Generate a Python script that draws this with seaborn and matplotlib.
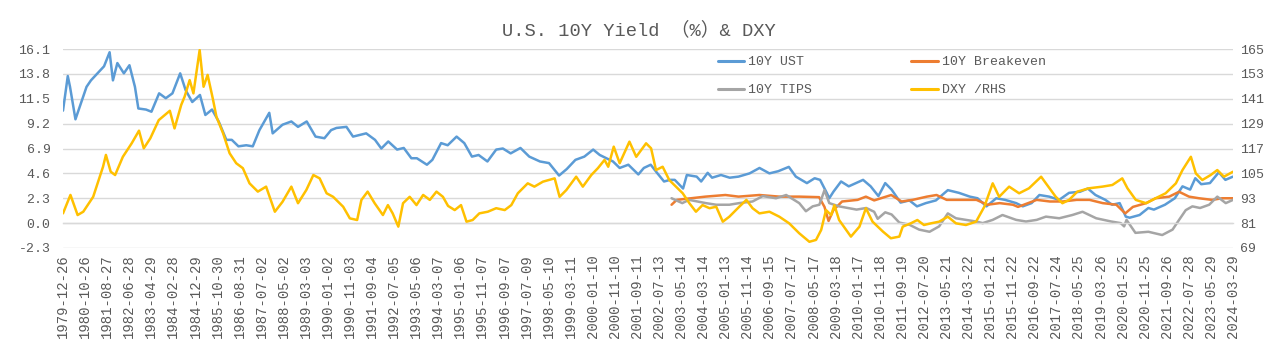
import numpy as np
import pandas as pd
import matplotlib
matplotlib.use("Agg")
import matplotlib.pyplot as plt
import seaborn as sns

# ---------------- data ----------------
ust_dates = ["1979-12-26", "1980-03-01", "1980-04-01", "1980-06-15", "1980-09-15", "1980-11-15",
             "1981-01-15", "1981-04-15", "1981-07-15", "1981-09-30", "1981-11-15", "1982-01-15",
             "1982-04-15", "1982-07-01", "1982-09-15", "1982-11-01", "1983-02-15", "1983-05-01",
             "1983-08-15", "1983-11-15", "1984-02-15", "1984-06-01", "1984-08-15", "1984-11-15",
             "1985-03-01", "1985-05-15", "1985-08-15", "1985-11-15", "1986-03-01", "1986-05-15",
             "1986-08-15", "1986-12-01", "1987-03-01", "1987-06-01", "1987-10-15", "1987-12-01",
             "1988-04-15", "1988-08-15", "1988-11-15", "1989-03-15", "1989-07-15", "1989-11-15",
             "1990-02-15", "1990-04-30", "1990-09-15", "1990-12-15", "1991-03-15", "1991-06-15",
             "1991-10-15", "1992-01-10", "1992-04-15", "1992-08-15", "1992-11-15", "1993-02-28",
             "1993-05-15", "1993-10-01", "1993-12-15", "1994-04-15", "1994-07-15", "1994-11-15",
             "1995-03-01", "1995-06-15", "1995-09-15", "1996-01-15", "1996-05-15", "1996-08-15",
             "1996-12-01", "1997-04-15", "1997-08-15", "1998-01-10", "1998-05-15", "1998-10-01",
             "1999-01-15", "1999-05-15", "1999-09-15", "2000-01-15", "2000-04-15", "2000-07-15",
             "2000-10-15", "2001-01-15", "2001-05-15", "2001-09-30", "2001-12-15", "2002-03-20",
             "2002-06-15", "2002-09-20", "2002-12-15", "2003-02-15", "2003-06-10", "2003-08-01",
             "2003-12-15", "2004-02-15", "2004-05-15", "2004-07-15", "2004-11-15", "2005-03-15",
             "2005-07-15", "2005-12-15", "2006-05-01", "2006-09-15", "2007-01-15", "2007-06-10",
             "2007-09-15", "2008-02-15", "2008-06-01", "2008-08-15", "2008-11-15", "2008-12-20",
             "2009-02-15", "2009-06-01", "2009-09-15", "2010-04-01", "2010-07-15", "2010-10-30",
             "2011-02-01", "2011-04-30", "2011-09-01", "2012-01-01", "2012-04-15", "2012-08-15",
             "2013-01-01", "2013-06-15", "2013-11-15", "2014-04-15", "2014-07-30", "2014-12-01",
             "2015-04-15", "2015-08-15", "2016-01-15", "2016-04-15", "2016-08-15", "2016-12-01",
             "2017-04-15", "2017-09-01", "2018-01-15", "2018-06-15", "2018-10-01", "2019-01-15",
             "2019-06-01", "2019-09-01", "2019-12-15", "2020-03-09", "2020-05-01", "2020-09-15",
             "2021-01-15", "2021-04-01", "2021-09-01", "2022-01-15", "2022-05-01", "2022-08-15",
             "2022-10-25", "2023-01-15", "2023-05-15", "2023-09-15", "2023-12-15", "2024-03-29"]
ust_vals = [10.4, 13.6, 12.6, 9.6, 11.4, 12.6,
            13.2, 13.85, 14.5, 15.8, 13.2, 14.8,
            13.85, 14.6, 12.6, 10.6, 10.5, 10.3,
            12.0, 11.55, 12.0, 13.85, 12.3, 11.2,
            11.85, 10.0, 10.5, 9.4, 7.7, 7.7,
            7.1, 7.2, 7.1, 8.6, 10.2, 8.3,
            9.1, 9.4, 8.9, 9.4, 8.0, 7.85,
            8.6, 8.8, 8.9, 8.0, 8.15, 8.3,
            7.7, 6.9, 7.55, 6.8, 6.95, 6.0,
            6.0, 5.4, 5.85, 7.4, 7.2, 8.0,
            7.4, 6.15, 6.3, 5.7, 6.8, 6.9,
            6.45, 6.95, 6.15, 5.7, 5.55, 4.4,
            5.0, 5.85, 6.15, 6.8, 6.3, 6.0,
            5.7, 5.1, 5.4, 4.5, 5.1, 5.4,
            4.65, 3.85, 4.0, 4.0, 3.2, 4.45,
            4.3, 3.85, 4.65, 4.2, 4.45, 4.2,
            4.3, 4.6, 5.1, 4.6, 4.8, 5.2,
            4.3, 3.7, 4.15, 4.0, 2.8, 2.3,
            2.9, 3.85, 3.4, 4.0, 3.4, 2.5,
            3.7, 3.1, 1.9, 2.1, 1.55, 1.85,
            2.1, 3.05, 2.8, 2.45, 2.3, 1.55,
            2.3, 2.15, 1.85, 1.55, 1.85, 2.6,
            2.45, 2.15, 2.8, 2.9, 3.2, 2.6,
            2.15, 1.7, 1.85, 0.6, 0.5, 0.75,
            1.4, 1.25, 1.7, 2.3, 3.4, 3.1,
            4.15, 3.6, 3.7, 4.7, 4.0, 4.3]

be_dates = ["2003-01-02", "2003-03-15", "2004-04-15", "2005-01-15", "2005-07-15", "2006-04-30",
            "2007-01-30", "2007-11-01", "2008-08-01", "2008-10-15", "2008-12-10", "2009-02-15",
            "2009-06-15", "2010-01-15", "2010-05-10", "2010-09-01", "2011-04-25", "2011-09-15",
            "2012-02-15", "2012-08-30", "2013-01-10", "2013-05-30", "2014-01-10", "2014-07-15",
            "2014-12-15", "2015-06-01", "2015-12-01", "2016-02-10", "2016-10-25", "2017-04-25",
            "2017-10-20", "2018-04-30", "2018-10-25", "2019-04-25", "2019-10-30", "2020-03-01",
            "2020-06-15", "2020-12-15", "2021-04-25", "2021-10-30", "2022-03-15", "2022-07-30",
            "2022-12-15", "2023-06-15", "2023-11-01", "2024-03-29"]
be_vals = [1.7, 2.15, 2.45, 2.6, 2.45, 2.6,
           2.45, 2.45, 2.4, 1.5, 0.2, 1.2,
           2.0, 2.15, 2.45, 2.1, 2.6, 2.0,
           2.15, 2.45, 2.6, 2.15, 2.15, 2.15,
           1.7, 1.85, 1.7, 1.5, 2.15, 2.0,
           2.0, 2.15, 2.15, 1.85, 1.7, 0.9,
           1.5, 1.85, 2.3, 2.45, 2.9, 2.45,
           2.3, 2.15, 2.3, 2.3]

tips_dates = ["2003-01-02", "2003-05-30", "2003-09-01", "2004-04-20", "2004-09-10", "2005-03-10",
              "2005-07-25", "2006-01-25", "2006-06-15", "2006-12-15", "2007-05-05", "2007-11-01",
              "2008-02-01", "2008-05-05", "2008-08-05", "2008-10-15", "2008-12-20", "2009-05-05",
              "2010-01-01", "2010-05-15", "2010-09-01", "2010-10-20", "2011-02-01", "2011-04-30",
              "2011-08-15", "2012-01-01", "2012-05-15", "2012-10-05", "2013-02-15", "2013-06-15",
              "2013-10-05", "2014-02-20", "2014-07-10", "2014-10-10", "2015-02-25", "2015-07-10",
              "2016-01-15", "2016-05-30", "2016-10-25", "2017-03-01", "2017-09-01", "2018-03-01",
              "2018-07-20", "2019-01-25", "2019-08-20", "2019-12-30", "2020-02-15", "2020-03-19",
              "2020-07-20", "2021-01-15", "2021-07-25", "2021-12-15", "2022-03-15", "2022-06-15",
              "2022-09-15", "2022-12-30", "2023-05-05", "2023-08-25", "2023-12-20", "2024-03-29"]
tips_vals = [2.3, 1.85, 2.15, 1.85, 1.7, 1.7,
             1.85, 2.0, 2.5, 2.3, 2.6, 1.85,
             1.1, 1.55, 1.7, 3.05, 1.85, 1.55,
             1.25, 1.4, 1.05, 0.4, 1.0, 0.8,
             0.05, -0.15, -0.6, -0.8, -0.3, 0.9,
             0.45, 0.3, 0.15, 0.0, 0.3, 0.75,
             0.3, 0.15, 0.3, 0.6, 0.45, 0.75,
             1.05, 0.45, 0.15, 0.0, -0.3, 0.3,
             -0.9, -0.8, -1.1, -0.6, 0.3, 1.2,
             1.55, 1.4, 1.7, 2.45, 1.85, 2.15]

dxy_dates = ["1979-12-26", "1980-04-07", "1980-07-15", "1980-10-01", "1981-02-15", "1981-07-01",
             "1981-08-10", "1981-10-15", "1981-12-15", "1982-04-01", "1982-08-01", "1982-11-10",
             "1983-01-15", "1983-04-15", "1983-08-10", "1984-01-10", "1984-03-15", "1984-06-15",
             "1984-08-01", "1984-10-10", "1984-12-01", "1985-02-25", "1985-04-20", "1985-06-15",
             "1985-08-25", "1985-10-15", "1986-01-15", "1986-04-15", "1986-07-15", "1986-10-15",
             "1987-01-15", "1987-05-10", "1987-09-01", "1987-12-31", "1988-04-15", "1988-08-15",
             "1988-11-15", "1989-03-10", "1989-06-15", "1989-09-10", "1989-12-15", "1990-03-15",
             "1990-08-01", "1990-11-01", "1991-02-10", "1991-04-10", "1991-07-05", "1991-10-10",
             "1992-02-01", "1992-04-10", "1992-06-15", "1992-09-01", "1992-11-05", "1993-02-05",
             "1993-05-10", "1993-08-10", "1993-11-10", "1994-02-10", "1994-05-10", "1994-07-20",
             "1994-10-20", "1995-01-15", "1995-04-01", "1995-06-25", "1995-09-25", "1996-01-20",
             "1996-05-15", "1996-09-10", "1996-12-10", "1997-03-10", "1997-07-25", "1997-10-25",
             "1998-02-20", "1998-08-01", "1998-10-08", "1999-01-10", "1999-05-25", "1999-08-25",
             "1999-12-20", "2000-03-20", "2000-06-20", "2000-08-10", "2000-10-25", "2001-01-15",
             "2001-05-30", "2001-09-01", "2002-01-15", "2002-03-25", "2002-06-01", "2002-09-01",
             "2002-12-01", "2003-03-05", "2003-06-05", "2003-09-05", "2003-12-05", "2004-03-05",
             "2004-06-10", "2004-09-10", "2004-12-10", "2005-03-10", "2005-07-25", "2005-11-01",
             "2006-01-25", "2006-04-30", "2006-09-15", "2007-01-30", "2007-06-15", "2007-11-01",
             "2008-03-20", "2008-06-20", "2008-08-30", "2008-11-05", "2009-01-15", "2009-03-01",
             "2009-05-05", "2009-10-15", "2010-02-10", "2010-05-10", "2010-08-10", "2011-01-01",
             "2011-04-20", "2011-08-15", "2011-10-01", "2012-01-20", "2012-04-20", "2012-07-20",
             "2012-10-25", "2013-02-15", "2013-06-15", "2013-10-05", "2014-02-20", "2014-07-10",
             "2014-11-01", "2015-02-25", "2015-05-25", "2015-10-10", "2016-02-25", "2016-07-10",
             "2016-12-25", "2017-03-01", "2017-07-15", "2017-10-15", "2018-01-15", "2018-05-10",
             "2018-10-15", "2019-04-20", "2019-09-05", "2020-01-20", "2020-04-01", "2020-07-25",
             "2020-12-15", "2021-04-25", "2021-09-10", "2022-01-30", "2022-05-01", "2022-08-25",
             "2022-11-01", "2023-01-30", "2023-05-25", "2023-08-25", "2023-11-25", "2024-03-29"]
dxy_vals = [85.7, 94.6, 84.9, 86.5, 93.7, 108.2,
            113.9, 105.8, 104.2, 113.0, 119.5, 125.6,
            117.1, 121.9, 130.7, 135.2, 126.7, 138.0,
            142.0, 150.0, 143.6, 164.5, 146.8, 152.5,
            141.2, 132.3, 124.3, 114.7, 109.9, 107.5,
            100.2, 96.2, 98.6, 86.5, 91.3, 98.6,
            90.6, 97.0, 104.2, 102.6, 95.4, 93.7,
            88.9, 83.3, 82.5, 92.2, 96.2, 90.6,
            84.9, 89.7, 85.7, 79.3, 90.6, 93.7,
            89.7, 94.6, 92.2, 96.2, 93.7, 89.3,
            87.3, 89.7, 81.7, 82.5, 85.7, 86.5,
            88.2, 87.3, 89.7, 95.4, 100.2, 98.6,
            101.0, 102.6, 93.7, 97.0, 103.4, 98.6,
            104.2, 107.5, 111.5, 108.2, 117.9, 109.9,
            120.3, 113.0, 119.5, 117.1, 106.6, 108.2,
            101.8, 98.6, 95.4, 90.6, 86.5, 89.7,
            88.2, 88.9, 81.7, 84.1, 88.9, 92.2,
            88.2, 85.7, 86.5, 84.1, 80.9, 76.1,
            72.0, 72.9, 77.7, 87.3, 84.9, 89.7,
            82.5, 74.5, 79.3, 88.2, 81.7, 76.9,
            73.7, 74.5, 79.3, 80.9, 82.5, 80.1,
            80.9, 81.7, 84.1, 80.9, 80.1, 81.7,
            88.9, 100.2, 93.7, 98.6, 95.4, 97.8,
            103.4, 100.2, 93.7, 90.6, 92.2, 96.2,
            97.8, 98.6, 99.4, 102.6, 97.8, 92.2,
            90.6, 93.0, 95.4, 100.2, 106.6, 113.0,
            105.0, 101.8, 104.2, 106.6, 103.4, 105.8]

xtick_labels = ["1979-12-26", "1980-10-26", "1981-08-27", "1982-06-28", "1983-04-29", "1984-02-28",
                "1984-12-29", "1985-10-30", "1986-08-31", "1987-07-02", "1988-05-02", "1989-03-03",
                "1990-01-02", "1990-11-03", "1991-09-04", "1992-07-05", "1993-05-06", "1994-03-07",
                "1995-01-06", "1995-11-07", "1996-09-07", "1997-07-09", "1998-05-10", "1999-03-11",
                "2000-01-10", "2000-11-10", "2001-09-11", "2002-07-13", "2003-05-14", "2004-03-14",
                "2005-01-13", "2005-11-14", "2006-09-15", "2007-07-17", "2008-05-17", "2009-03-18",
                "2010-01-17", "2010-11-18", "2011-09-19", "2012-07-20", "2013-05-21", "2014-03-22",
                "2015-01-21", "2015-11-22", "2016-09-22", "2017-07-24", "2018-05-25", "2019-03-26",
                "2020-01-25", "2020-11-25", "2021-09-26", "2022-07-28", "2023-05-29", "2024-03-29"]
left_ticks = [-2.3, 0.0, 2.3, 4.6, 6.9, 9.2, 11.5, 13.8, 16.1]
right_ticks = [69, 81, 93, 105, 117, 129, 141, 153, 165]

title_text = "U.S. 10Y Yield （%）& DXY"
series_names = ["10Y UST", "10Y Breakeven", "10Y TIPS", "DXY /RHS"]
colors = {"10Y UST": "#5B9BD5", "10Y Breakeven": "#ED7D31", "10Y TIPS": "#A5A5A5", "DXY /RHS": "#FFC000"}

# ---------------- style ----------------
sns.set_theme(style="white")
plt.rcParams["font.family"] = ["Liberation Mono", "Noto Sans CJK SC", "DejaVu Sans"]
plt.rcParams["axes.unicode_minus"] = False
TXT = "#595959"
GRID = "#D9D9D9"
LW = 1.8

W, H = 1280, 340
fig = plt.figure(figsize=(W / 100, H / 100), dpi=100)
x0, x1, ytop, ybot = 63, 1233, 49, 248
ax = fig.add_axes([x0 / W, 1 - ybot / H, (x1 - x0) / W, (ybot - ytop) / H])

sns.lineplot(x=pd.to_datetime(ust_dates), y=ust_vals, ax=ax, color=colors["10Y UST"], lw=LW, legend=False)
sns.lineplot(x=pd.to_datetime(be_dates), y=be_vals, ax=ax, color=colors["10Y Breakeven"], lw=LW, legend=False)
sns.lineplot(x=pd.to_datetime(tips_dates), y=tips_vals, ax=ax, color=colors["10Y TIPS"], lw=LW, legend=False)

ax2 = ax.twinx()
sns.lineplot(x=pd.to_datetime(dxy_dates), y=dxy_vals, ax=ax2, color=colors["DXY /RHS"], lw=LW, legend=False)

xt = pd.to_datetime(xtick_labels)
ax.set_xlim(xt[0], xt[-1])
ax.set_ylim(left_ticks[0], left_ticks[-1])
ax2.set_ylim(right_ticks[0], right_ticks[-1])

ax.set_yticks(left_ticks)
ax.set_yticklabels([f"{v:.1f}" for v in left_ticks])
ax2.set_yticks(right_ticks)
ax2.set_yticklabels([str(v) for v in right_ticks])
ax.set_xticks(xt)
ax.set_xticklabels(xtick_labels)

ax.set_xlabel("")
ax.set_ylabel("")
ax2.set_ylabel("")

ax.set_axisbelow(True)
ax.yaxis.grid(True, color=GRID, lw=1.0)
ax.xaxis.grid(False)
ax2.grid(False)

for a in (ax, ax2):
    for s in ("left", "right", "top"):
        a.spines[s].set_visible(False)
ax2.spines["bottom"].set_visible(False)
ax.spines["bottom"].set_position(("data", 0))
ax.spines["bottom"].set_color(GRID)
ax.spines["bottom"].set_linewidth(1.0)

ax.tick_params(axis="x", direction="out", length=3.6, width=0.8, color=GRID,
               pad=18.5, labelsize=10, labelcolor=TXT, labelrotation=90)
ax.tick_params(axis="y", length=0, pad=9, labelsize=9.5, labelcolor=TXT)
ax2.tick_params(axis="y", length=0, pad=5, labelsize=9.5, labelcolor=TXT)

fig.text(639 / W, 1 - 30 / H, title_text, ha="center", va="center", fontsize=13.5, color=TXT)

handles = [plt.Line2D([], [], color=colors[n], lw=2.2) for n in series_names]
order = [0, 2, 1, 3]
leg = fig.legend([handles[i] for i in order], [series_names[i] for i in order],
                 ncol=2, loc="upper left", bbox_to_anchor=(718 / W, 1 - 56 / H),
                 frameon=False, fontsize=9.5, handlelength=2.0, handletextpad=0.3,
                 columnspacing=7.5, labelspacing=1.2, borderpad=0, borderaxespad=0,
                 labelcolor=TXT)

fig.savefig("out.png", dpi=100)
